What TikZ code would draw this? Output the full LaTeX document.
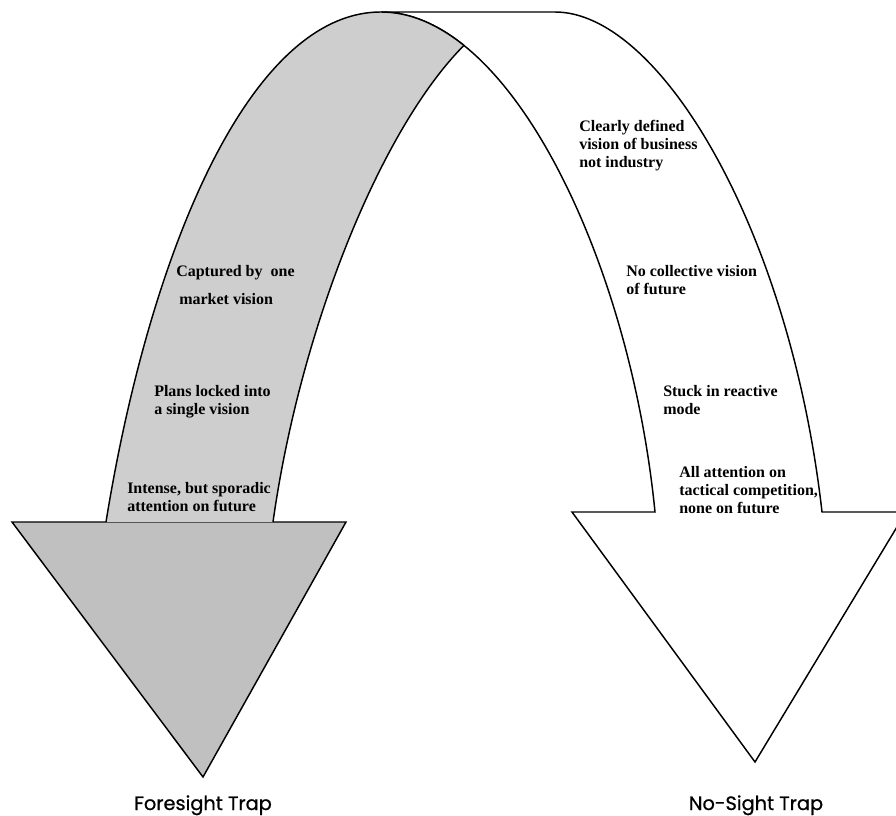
\documentclass[tikz,border=0pt]{standalone}
\usepackage{fontspec}
\setmainfont{Liberation Serif}
\newfontfamily\labelfont[FakeBold=0.8]{Poppins}
\definecolor{shaftgray}{RGB}{206,206,206}
\definecolor{headgray}{RGB}{192,192,192}
\begin{document}
\begin{tikzpicture}[x=0.75pt,y=-0.75pt,
  txt/.style={font=\fontsize{12}{13.5}\selectfont\bfseries, inner sep=0pt, anchor=base west, text=black},
  trap/.style={font=\labelfont\fontsize{14.5}{17}\selectfont, inner sep=0pt, anchor=base},
  outline/.style={draw=black, line width=1.1pt, line join=miter}]
\useasboundingbox (0,0) rectangle (896,816);
\clip (0,0) rectangle (896,816);

% ---- right (white) arrow: no-sight trap ----
\path[outline, fill=white] (572,512) -- (655,512)
  .. controls (635.5,315.4) and (558.2,121.3) .. (463.9,45.4)
  .. controls (437.3,24) and (409.4,12) .. (381,12)
  -- (555,12) .. controls (660,12) and (790,230) .. (822,512)
  -- (906,512) -- (755,762) -- cycle;

% ---- left (gray) arrow: foresight trap ----
\path[outline, fill=headgray] (12,522) -- (346,522) -- (203,777) -- cycle;
\fill[shaftgray] (106,522) .. controls (150,250) and (250,12) .. (381,12)
  .. controls (409.4,12) and (437.3,24) .. (463.9,45.4)
  .. controls (380,130) and (300,330) .. (273,522) -- cycle;
\draw[outline] (106,522) .. controls (150,250) and (250,12) .. (381,12)
  .. controls (409.4,12) and (437.3,24) .. (463.9,45.4);
\draw[outline] (463.9,45.4) .. controls (380,130) and (300,330) .. (273,522);

% ---- texts, left arrow ----
\node[txt] (cap1) at (176,277) {Captured by\ \ one};
\node[txt] (cap2) at (179,305) {market vision};
\node[txt] (plans) at (154,397) {\begin{tabular}[t]{@{}l@{}}Plans locked into\\a single vision\end{tabular}};
\node[txt] (intense) at (127,493) {\begin{tabular}[t]{@{}l@{}}Intense, but sporadic\\attention on future\end{tabular}};

% ---- texts, right arrow ----
\node[txt] (clearly) at (579,132) {\begin{tabular}[t]{@{}l@{}}Clearly defined\\vision of business\\not industry\end{tabular}};
\node[txt] (nocoll) at (626,277) {\begin{tabular}[t]{@{}l@{}}No collective vision\\of future\end{tabular}};
\node[txt] (stuck) at (663,397) {\begin{tabular}[t]{@{}l@{}}Stuck in reactive\\mode\end{tabular}};
\node[txt] (allatt) at (679,477) {\begin{tabular}[t]{@{}l@{}}All attention on\\tactical competition,\\none on future\end{tabular}};

% ---- captions ----
\node[trap] (fore) at (203,810) {Foresight Trap};
\node[trap] (nosight) at (756,810) {No-Sight Trap};
\end{tikzpicture}
\end{document}
